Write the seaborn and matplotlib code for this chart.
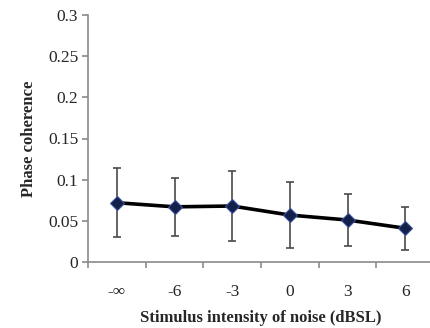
import numpy as np
import pandas as pd
import seaborn as sns
import matplotlib.pyplot as plt

# valores
niveles = ['-∞', '-6', '-3', '0', '3', '6']
coherencia = [0.072, 0.067, 0.068, 0.057, 0.051, 0.041]
error = [0.042, 0.035, 0.042, 0.040, 0.031, 0.026]

df = pd.DataFrame({'nivel': niveles, 'coherencia': coherencia, 'error': error})

sns.set_style('white')
plt.rcParams['font.family'] = ['Liberation Serif', 'DejaVu Serif']

fig = plt.figure(figsize=(4.3, 3.28), dpi=100)
ax = fig.add_axes([88 / 430, 66 / 328, 346 / 430, 247 / 328])

pos = np.arange(len(niveles))
ax.errorbar(pos, df['coherencia'], yerr=df['error'], fmt='none',
            ecolor='#4a4a4a', elinewidth=1.2, capsize=3, capthick=1.2, zorder=2)
sns.lineplot(x=pos, y=df['coherencia'], ax=ax, color='black', linewidth=2.6,
             marker='D', markersize=7, markerfacecolor='#13204a',
             markeredgecolor='#3a4f9a', markeredgewidth=0.8, zorder=3)

ax.set_xlim(-0.5, 5.5)
ax.set_ylim(0, 0.3)
ax.set_yticks([0, 0.05, 0.1, 0.15, 0.2, 0.25, 0.3])
ax.set_yticklabels(['0', '0.05', '0.1', '0.15', '0.2', '0.25', '0.3'])
ax.set_xticks(pos)
ax.set_xticklabels(niveles)
ax.set_xticks(np.arange(-0.5, 5.6, 1), minor=True)
ax.tick_params(axis='x', which='major', bottom=False, length=0, pad=16, labelsize=12.5)
ax.tick_params(axis='x', which='minor', bottom=True, length=4, width=1.2, color='#8a8a8a', direction='out')
ax.tick_params(axis='y', left=True, length=4, width=1.2, color='#8a8a8a', direction='out', labelsize=12.5, pad=3)

for s in ['top', 'right']:
    ax.spines[s].set_visible(False)
for s in ['left', 'bottom']:
    ax.spines[s].set_color('#8a8a8a')
    ax.spines[s].set_linewidth(1.2)

ax.set_xlabel('Stimulus intensity of noise (dBSL)', fontweight='bold', fontsize=12, labelpad=7)
ax.set_ylabel('Phase coherence', fontweight='bold', fontsize=12, labelpad=8)
ax.grid(False)

fig.savefig('out.png', dpi=100)
